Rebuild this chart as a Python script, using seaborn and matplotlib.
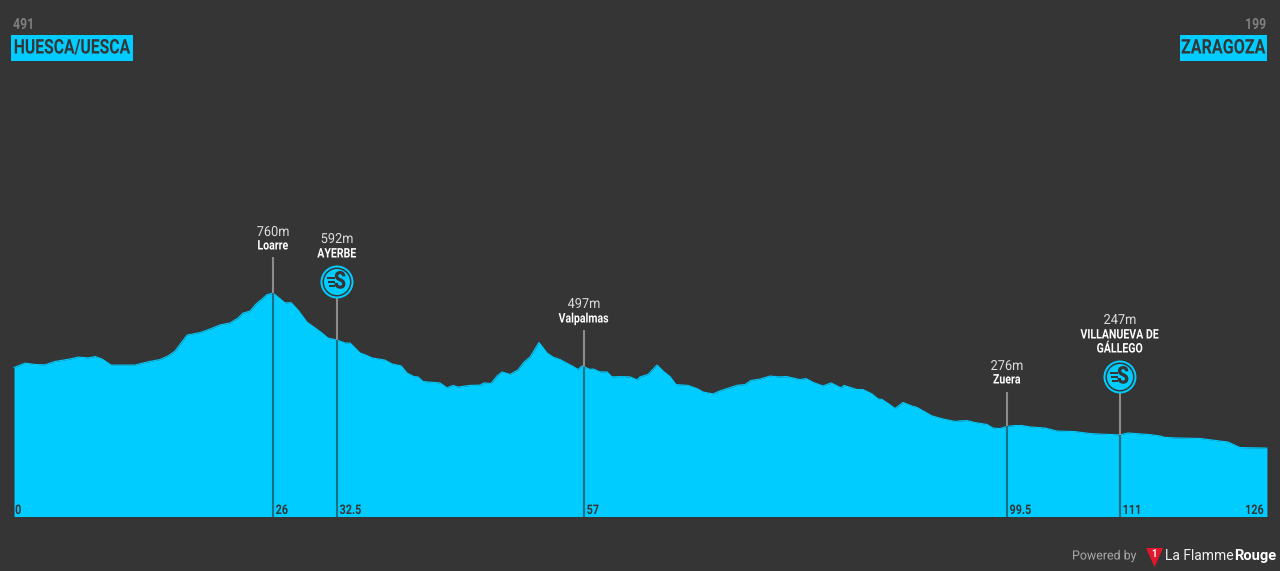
import numpy as np
import pandas as pd
import matplotlib
matplotlib.use("Agg")
import matplotlib.pyplot as plt
import matplotlib.patheffects as pe
from matplotlib.patches import Circle, Polygon, Rectangle
from matplotlib.transforms import Affine2D
import seaborn as sns

BG = "#353535"
CYAN = "#00ccff"
FONT = ["Roboto", "DejaVu Sans"]

# profile
km = [0, 1.11, 2.11, 3.12, 4.12, 5.63, 6.44, 7.44, 8.15, 8.85, 9.75, 11.16, 12.17, 13.37, 14.68, 15.49,
      16.19, 17.40, 18.70, 19.71, 20.72, 21.72, 22.53, 23.03, 23.73, 24.34, 24.94, 25.44, 26.05, 26.55,
      27.25, 27.86, 28.56, 29.46, 30.77, 31.58, 32.48, 33.29, 33.79, 34.19, 34.79, 35.40, 36.00, 37.31,
      38.01, 38.92, 39.52, 40.22, 40.63, 41.13, 42.84, 43.54, 44.15, 44.65, 45.86, 46.86, 47.26, 47.97,
      48.57, 49.07, 49.88, 50.68, 51.29, 51.89, 52.79, 53.60, 54.20, 54.91, 56.11, 56.72, 57.12, 57.92,
      58.22, 58.93, 59.63, 60.13, 60.94, 61.94, 62.65, 62.95, 63.76, 64.66, 65.37, 65.97, 66.57, 67.78,
      68.78, 69.29, 70.29, 70.99, 72.00, 72.81, 73.51, 74.11, 75.02, 76.02, 76.83, 77.73, 79.04, 79.64,
      80.35, 81.35, 82.16, 83.16, 83.46, 84.77, 85.37, 86.28, 86.88, 87.28, 87.99, 88.59, 89.40, 90.30,
      90.80, 92.31, 93.42, 94.62, 95.12, 95.83, 96.63, 97.84, 98.44, 99.15, 99.85, 100.66, 101.36, 102.17,
      103.68, 104.89, 106.70, 108.20, 109.21, 111.22, 112.03, 114.24, 115.24, 115.74, 116.75, 119.26,
      120.77, 122.08, 123.29, 126]
elev = [489, 505, 500, 499, 511, 520, 527, 524, 529, 520, 498, 498, 498, 509, 518, 531,
        549, 607, 616, 629, 644, 651, 669, 687, 694, 720, 738, 754, 760, 745,
        724, 725, 698, 654, 620, 596, 589, 578, 578, 564, 542, 534, 524, 516,
        502, 495, 469, 456, 455, 438, 433, 415, 424, 418, 424, 425, 433, 431,
        458, 473, 464, 480, 509, 527, 580, 542, 527, 518, 495, 482, 495, 482,
        484, 473, 473, 455, 456, 455, 444, 455, 464, 498, 473, 456, 427, 424,
        411, 400, 393, 404, 416, 425, 427, 442, 447, 458, 455, 456, 445, 449,
        435, 422, 433, 415, 424, 409, 409, 393, 375, 373, 356, 340, 362, 349,
        344, 313, 302, 293, 295, 296, 289, 282, 269, 267, 275, 278, 278, 273,
        269, 258, 256, 249, 247, 244, 251, 245, 240, 235, 233, 231,
        224, 218, 198, 196]

# named points
point_km = [26.05, 32.48, 57.32, 99.85, 111.22]
point_elev = [760, 592, 497, 276, 247]
point_tick = ["26", "32.5", "57", "99.5", "111"]
point_name = ["Loarre", "AYERBE", "Valpalmas", "Zuera", "VILLANUEVA DE\nGÁLLEGO"]
point_sprint = [False, True, False, False, True]

start_name, start_code = "HUESCA/UESCA", "491"
end_name, end_code = "ZARAGOZA", "199"


class Squeeze(pe.AbstractPathEffect):
    # narrows a drawn string, there is no condensed face installed
    def __init__(self, sx, anchor=0.5):
        super().__init__()
        self.sx = sx
        self.anchor = anchor

    def draw_path(self, renderer, gc, tpath, affine, rgbFace=None):
        ext = tpath.get_extents(affine)
        x0 = ext.x0 + self.anchor * ext.width
        squeezed = affine + Affine2D().translate(-x0, 0).scale(self.sx, 1).translate(x0, 0)
        renderer.draw_path(gc, tpath, squeezed, rgbFace)


def fx(x):
    return x / 1280


def fy(y):
    return 1 - y / 571


def y_to_m(y):
    return (502 - y) / 0.275


def x_to_km(x):
    return (x - 14) / 9.944


def label(fig, x, y, s, size, color, sx=1.0, weight="bold", ha="center", **kw):
    anchor = {"left": 0.0, "center": 0.5, "right": 1.0}[ha]
    t = fig.text(fx(x), fy(y), s, color=color, fontsize=size, fontweight=weight, family=FONT,
                 ha=ha, va="center", **kw)
    if sx != 1.0:
        t.set_path_effects([Squeeze(sx, anchor)])
    return t


def draw_sprint(fig, x, y):
    fig.add_artist(Circle((x, 571 - y), 16.5, transform=None, fc=CYAN, ec="none"))
    fig.add_artist(Circle((x, 571 - y), 14.5, transform=None, fc=BG, ec="none"))
    fig.add_artist(Circle((x, 571 - y), 13, transform=None, fc=CYAN, ec="none"))
    label(fig, x + 3, y, "S", 17.5, BG, sx=0.8, weight="black")
    for i, y_off in enumerate([-4, 0, 4]):
        fig.add_artist(Rectangle((x - 10 + i, 571 - y - y_off - 0.9), 8 - i, 1.8, transform=None,
                                 fc=BG, ec="none"))


sns.set_theme(style="dark", rc={"axes.facecolor": BG, "figure.facecolor": BG})
plt.rcParams["font.family"] = FONT

fig = plt.figure(figsize=(12.8, 5.71), dpi=100)
ax = fig.add_axes([0, 0, 1, 1])
ax.set_xlim(x_to_km(0), x_to_km(1280))
ax.set_ylim(y_to_m(571), y_to_m(0))
ax.axis("off")

df = pd.DataFrame({"km": km, "elev": elev})
base = y_to_m(516.5)
ax.fill_between(df["km"], base, df["elev"], color=CYAN, lw=0)
sns.lineplot(data=df, x="km", y="elev", color=CYAN, lw=0.8, ax=ax, legend=False)

# stems and labels
stem_tops = [257, 297, 330, 392, 392]
value_y = [232, 239, 304, 366, 320]
name_y = [246, 254, 319, 380, 342]
for i in range(len(point_km)):
    x_px = 14 + point_km[i] * 9.944
    surface = np.interp(point_km[i], km, elev)
    ax.vlines(point_km[i], y_to_m(stem_tops[i]), surface, color="#8c8c8c", lw=1.5, zorder=3)
    ax.vlines(point_km[i], base, surface, color="#1f6c84", lw=1.5, zorder=3)
    label(fig, x_px + 2.5, 510.5, point_tick[i], 9.5, BG, sx=0.82, ha="left")
    label(fig, x_px, value_y[i], f"{point_elev[i]}m", 10, "#dcdcdc", sx=0.92, weight="normal")
    label(fig, x_px, name_y[i], point_name[i], 9.5, "white", sx=0.8, linespacing=1.1)
    if point_sprint[i]:
        draw_sprint(fig, x_px, 282 if i == 1 else 377)

label(fig, 15, 510.5, "0", 9.5, BG, sx=0.82, ha="left")
label(fig, 1264, 510.5, "126", 9.5, BG, sx=0.82, ha="right")

# start and finish boxes
fig.add_artist(Rectangle((11, 571 - 61), 122, 26, transform=None, fc=CYAN, ec="none"))
fig.add_artist(Rectangle((1180, 571 - 61), 87, 26, transform=None, fc=CYAN, ec="none"))
label(fig, 13.5, 48, start_name, 14.5, BG, sx=0.78, ha="left")
label(fig, 1265.5, 48, end_name, 14.5, BG, sx=0.8, ha="right")
label(fig, 13, 25, start_code, 11, "#7f7f7f", sx=0.8, ha="left")
label(fig, 1266, 25, end_code, 11, "#7f7f7f", sx=0.8, ha="right")

# footer
label(fig, 1072, 556, "Powered by", 9.2, "#a8a8a8", sx=0.97, weight="normal", ha="left")
fig.add_artist(Polygon([(1146, 571 - 548), (1163, 571 - 548), (1154.5, 571 - 567)], transform=None,
                       fc="#e3162d", ec="none"))
label(fig, 1154.5, 554, "1", 7, "white")
label(fig, 1165, 556, "La Flamme", 10, "#f0f0f0", weight="normal", ha="left")
label(fig, 1234, 556, "Rouge", 10.5, "white", ha="left")

fig.savefig("out.png", dpi=100, facecolor=BG)
